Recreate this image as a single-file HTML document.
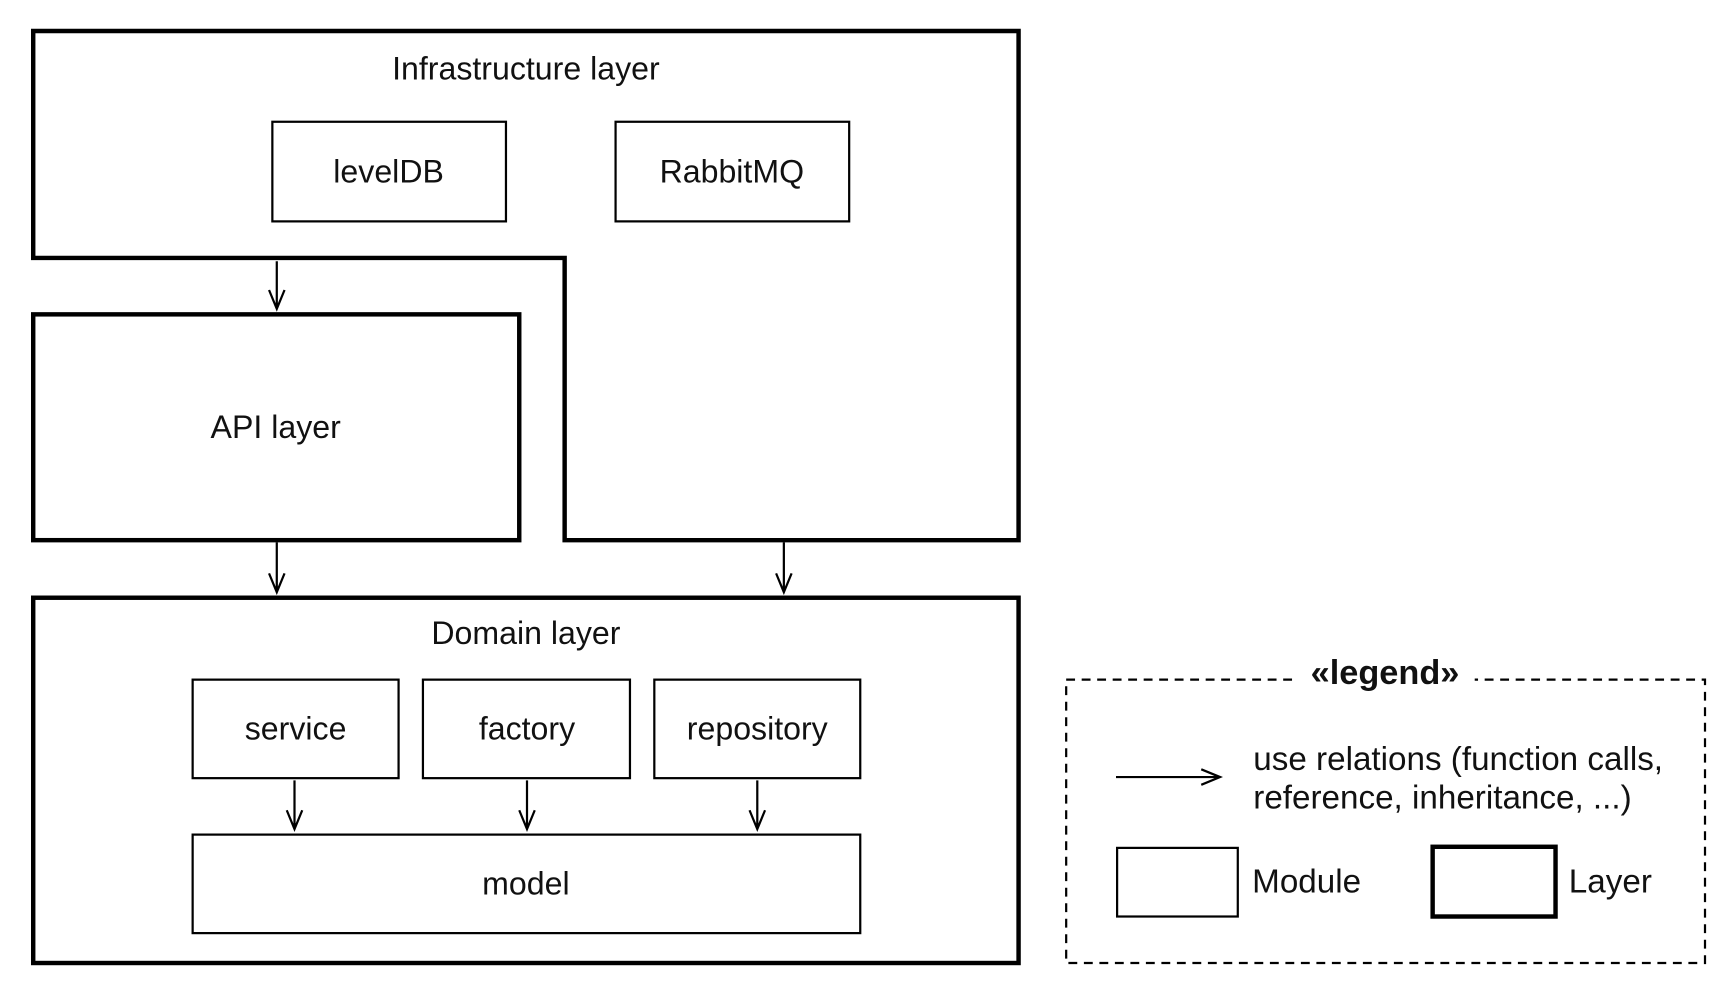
<!DOCTYPE html>
<html><head><meta charset="utf-8"><style>
html,body{margin:0;padding:0;background:#fff;}
svg{display:block;}
.t{font-family:"Liberation Sans",sans-serif;font-size:29px;fill:#111;text-anchor:middle;dominant-baseline:central;}
.l{font-family:"Liberation Sans",sans-serif;font-size:30px;fill:#111;dominant-baseline:central;}
</style></head><body>
<svg width="1736" height="994" viewBox="0 0 1568 898" preserveAspectRatio="none" xmlns="http://www.w3.org/2000/svg">
<g fill="none" stroke="#000" stroke-linejoin="miter">
<path d="M30,28 H920 V488 H510 V233 H30 Z" stroke-width="4"/>
<rect x="246" y="110" width="211" height="90" stroke-width="2"/>
<rect x="556" y="110" width="211" height="90" stroke-width="2"/>
<rect x="30" y="284" width="439" height="204" stroke-width="4"/>
<rect x="30" y="540" width="890" height="330" stroke-width="4"/>
<rect x="174" y="614" width="186" height="89" stroke-width="2"/>
<rect x="382" y="614" width="187" height="89" stroke-width="2"/>
<rect x="591" y="614" width="186" height="89" stroke-width="2"/>
<rect x="174" y="754" width="603" height="89" stroke-width="2"/>
<g stroke-width="2">
<path d="M250,236 V279 M243,262 L250,279 L257,262"/>
<path d="M250,490 V535 M243,518 L250,535 L257,518"/>
<path d="M708,490 V535 M701,518 L708,535 L715,518"/>
<path d="M266,705 V749 M259,732 L266,749 L273,732"/>
<path d="M476,705 V749 M469,732 L476,749 L483,732"/>
<path d="M684,705 V749 M677,732 L684,749 L691,732"/>
<path d="M1008,702 H1102 M1085,695 L1102,702 L1085,709"/>
</g>
<rect x="963" y="614" width="577" height="256" stroke-width="2" stroke-dasharray="8,6"/>
<rect x="1009" y="766" width="109" height="62" stroke-width="2"/>
<rect x="1294" y="765" width="111" height="63" stroke-width="4"/>
</g>
<rect x="1170" y="596" width="162" height="28" fill="#fff"/>
<text class="t" x="475" y="62">Infrastructure layer</text>
<text class="t" x="351" y="155">levelDB</text>
<text class="t" x="661" y="155">RabbitMQ</text>
<text class="t" x="249" y="386">API layer</text>
<text class="t" x="475" y="572">Domain layer</text>
<text class="t" x="267" y="658">service</text>
<text class="t" x="476" y="658">factory</text>
<text class="t" x="684" y="658">repository</text>
<text class="t" x="475" y="798">model</text>
<text class="t" x="1251" y="608" style="font-weight:bold;font-size:31px">«legend»</text>
<text class="l" x="1132" y="686">use relations (function calls,</text>
<text class="l" x="1132" y="721">reference, inheritance, ...)</text>
<text class="l" x="1131" y="797">Module</text>
<text class="l" x="1417" y="797">Layer</text>
</svg>
</body></html>
